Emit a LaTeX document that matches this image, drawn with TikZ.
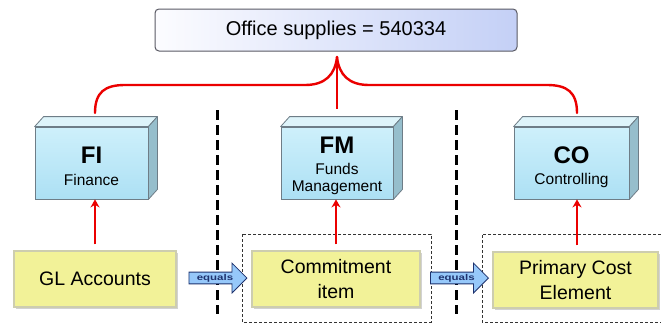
\documentclass[tikz,border=0pt]{standalone}
\usepackage{fontspec}
\setmainfont{Liberation Sans}
\usetikzlibrary{shapes.arrows,shadows,arrows.meta}
\definecolor{topL}{RGB}{252,252,255}
\definecolor{topR}{RGB}{196,208,246}
\definecolor{topEdge}{RGB}{90,90,100}
\definecolor{cubeT}{RGB}{206,240,251}
\definecolor{cubeB}{RGB}{172,224,244}
\definecolor{cubeTop}{RGB}{222,244,250}
\definecolor{cubeSide}{RGB}{150,190,204}
\definecolor{cubeEdge}{RGB}{110,125,135}
\definecolor{yel}{RGB}{242,242,152}
\definecolor{yelEdge}{RGB}{205,205,175}
\definecolor{arrFill}{RGB}{150,200,250}
\definecolor{arrEdge}{RGB}{30,50,110}
\definecolor{brace}{RGB}{235,0,0}
\tikzset{
  topbox/.style={draw=topEdge, line width=1pt, rounded corners=4pt,
    left color=topL, right color=topR, minimum width=362pt, minimum height=42pt,
    inner sep=0pt, font=\fontsize{20}{24}\selectfont},
  cubefront/.style={draw=cubeEdge, line width=0.8pt, top color=cubeT, bottom color=cubeB,
    minimum height=72pt, inner sep=0pt, align=center},
  yellowbox/.style={draw=yelEdge, line width=1.5pt, fill=yel, minimum height=56pt,
    inner sep=0pt, align=center, font=\fontsize{19.5}{25}\selectfont,
    drop shadow={shadow xshift=1.5pt, shadow yshift=-2pt, opacity=0.35}},
  eqarrow/.style={single arrow, draw=arrEdge, line width=0.8pt, fill=arrFill,
    minimum height=58pt, minimum width=14pt, single arrow head extend=9pt,
    inner sep=1.5pt, text=arrEdge, font=\bfseries\fontsize{8.5}{9}\selectfont},
  redline/.style={draw=brace, line width=2.4pt},
  sepline/.style={line width=3pt, dash pattern=on 10pt off 5pt},
  dashbox/.style={line width=0.8pt, dash pattern=on 3pt off 2pt, draw=black!80},
  big/.style={font=\bfseries\fontsize{24}{26}\selectfont},
  small/.style={font=\fontsize{15.5}{19}\selectfont}
}
\newcommand\cubeFaces[1]{%
  \filldraw[fill=cubeTop, draw=cubeEdge, line width=0.8pt, line join=round]
    (#1.north west) -- ++(9,-10) -- ([shift={(9,-10)}]#1.north east) -- (#1.north east) -- cycle;
  \filldraw[fill=cubeSide, draw=cubeEdge, line width=0.8pt, line join=round]
    (#1.north east) -- ++(9,-10) -- ([shift={(9,-10)}]#1.south east) -- (#1.south east) -- cycle;
}
\begin{document}
\begin{tikzpicture}[x=1pt,y=-1pt]
\useasboundingbox (0,0) rectangle (661,324);
\fill[white] (0,0) rectangle (661,324);

% dashed group boxes
\draw[dashbox] (242,234) rectangle (431,322);
\draw[dashbox] (661,234) -- (482,234) -- (482,322) -- (661,322);

% separator lines
\draw[sepline] (217,110) -- (217,314);
\draw[sepline] (456,110) -- (456,314);

% top box
\node[topbox] (top) at (336,30) {Office supplies = 540334};

% 3D boxes
\node[cubefront, minimum width=113pt] (fi) at (91.5,163) {};
\cubeFaces{fi}
\node[big] at (91.5,155) {FI};
\node[small] at (91.5,180) {Finance};

\node[cubefront, minimum width=112pt] (fm) at (337,163) {};
\cubeFaces{fm}
\node[big] at (337,145) {FM};
\node[small, align=center] at (337,179) {Funds\\[-2pt]Management};

\node[cubefront, minimum width=115pt] (co) at (571.5,163) {};
\cubeFaces{co}
\node[big] at (571.5,155) {CO};
\node[small] at (571.5,180) {Controlling};

% bottom boxes
\node[yellowbox, minimum width=162pt] (gl) at (95,279) {GL Accounts};
\node[yellowbox, minimum width=168pt] (ci) at (336,279) {Commitment\\item};
\node[yellowbox, minimum width=165pt] (pc) at (575.5,280) {Primary Cost\\Element};

% equals arrows
\node[eqarrow] (eq1) at (215,278) {\scalebox{1.35}[1]{equals}\hspace{9pt}};
\node[eqarrow] (eq2) at (456.5,278) {\scalebox{1.35}[1]{equals}\hspace{9pt}};

% brace connectors
\coordinate (tip) at (337,57);
\coordinate (lf) at (95,113);
\coordinate (rt) at (577,113);
\draw[redline, line cap=round] (lf) .. controls (95,92) and (105,85) .. (125,85) -- (305,85)
  .. controls (325,85) and (335,75) .. (tip);
\draw[redline, line cap=round] (rt) .. controls (577,92) and (567,85) .. (547,85) -- (369,85)
  .. controls (349,85) and (339,75) .. (tip);
\draw[redline] (tip) -- (337,109);

% upward arrows
\draw[redline, -{Stealth[length=8pt,width=9pt]}] ([yshift=6pt]gl.north) -- (gl.north |- fi.south);
\draw[redline, -{Stealth[length=8pt,width=9pt]}] ([yshift=6pt]ci.north) -- (ci.north |- fm.south);
\draw[redline, -{Stealth[length=8pt,width=9pt]}] ([xshift=1.5pt,yshift=6pt]pc.north) -- ([xshift=1.5pt]pc.north |- co.south);
\end{tikzpicture}
\end{document}
